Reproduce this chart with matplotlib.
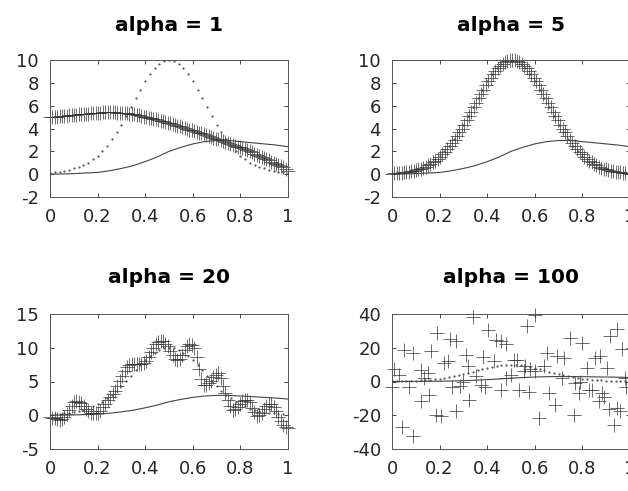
import numpy as np
import matplotlib
matplotlib.use('Agg')
import matplotlib.pyplot as plt

# true function (dotted), sampled every 0.02
x_true = np.linspace(0, 1, 51)
y_true = [0.10, 0.15, 0.20, 0.27, 0.36, 0.50, 0.64, 0.80, 1.00, 1.30,
          1.60, 2.00, 2.50, 3.05, 3.65, 4.35, 5.09, 5.87, 6.65, 7.41,
          8.12, 8.75, 9.28, 9.67, 9.92, 10.0, 9.92, 9.67, 9.28, 8.75,
          8.12, 7.41, 6.65, 5.87, 5.09, 4.35, 3.65, 3.05, 2.50, 2.00,
          1.60, 1.30, 1.00, 0.80, 0.64, 0.50, 0.36, 0.27, 0.20, 0.15, 0.10]

# solid reference curve
x_line = np.linspace(0, 1, 21)
y_line = [0.0, 0.02, 0.05, 0.1, 0.15, 0.3, 0.5, 0.75, 1.1, 1.5,
          2.0, 2.35, 2.65, 2.85, 2.95, 2.95, 2.85, 2.75, 2.65, 2.55, 2.4]

x_est = np.linspace(0, 1, 100)

est_a1 = [4.98, 5.00, 5.03, 5.05, 5.07, 5.09, 5.11, 5.13, 5.15, 5.17,
          5.19, 5.21, 5.23, 5.25, 5.27, 5.29, 5.31, 5.33, 5.35, 5.37,
          5.39, 5.40, 5.41, 5.42, 5.42, 5.42, 5.42, 5.41, 5.40, 5.39,
          5.38, 5.36, 5.34, 5.31, 5.28, 5.25, 5.21, 5.16, 5.11, 5.05,
          5.00, 4.95, 4.90, 4.85, 4.80, 4.75, 4.69, 4.63, 4.57, 4.51,
          4.45, 4.38, 4.32, 4.25, 4.19, 4.12, 4.05, 3.98, 3.91, 3.85,
          3.78, 3.71, 3.64, 3.57, 3.50, 3.42, 3.35, 3.27, 3.20, 3.12,
          3.05, 2.97, 2.89, 2.81, 2.74, 2.66, 2.58, 2.50, 2.42, 2.34,
          2.26, 2.17, 2.08, 1.99, 1.90, 1.80, 1.70, 1.60, 1.50, 1.40,
          1.30, 1.20, 1.10, 1.00, 0.90, 0.80, 0.70, 0.60, 0.45, 0.30]

est_a5 = [0.05, 0.07, 0.08, 0.10, 0.12, 0.15, 0.18, 0.21, 0.25, 0.30,
          0.36, 0.42, 0.49, 0.58, 0.67, 0.78, 0.90, 1.03, 1.18, 1.35,
          1.53, 1.73, 1.95, 2.19, 2.45, 2.72, 3.01, 3.32, 3.65, 3.99,
          4.35, 4.71, 5.09, 5.48, 5.87, 6.26, 6.65, 7.03, 7.41, 7.77,
          8.12, 8.45, 8.75, 9.03, 9.28, 9.49, 9.67, 9.81, 9.92, 9.98,
          10.0, 9.98, 9.92, 9.81, 9.67, 9.49, 9.28, 9.03, 8.75, 8.45,
          8.12, 7.77, 7.41, 7.03, 6.65, 6.26, 5.87, 5.48, 5.09, 4.71,
          4.35, 3.99, 3.65, 3.32, 3.01, 2.72, 2.45, 2.19, 1.95, 1.73,
          1.53, 1.35, 1.18, 1.03, 0.90, 0.78, 0.67, 0.58, 0.49, 0.42,
          0.36, 0.30, 0.25, 0.21, 0.18, 0.15, 0.12, 0.10, 0.08, 0.05]

est_a20 = [-0.3, -0.35, -0.4, -0.5, -0.65, -0.5, -0.2, 0.25, 0.8, 1.4,
           1.9, 2.05, 1.95, 1.75, 1.4, 0.95, 0.6, 0.4, 0.35, 0.35,
           0.4, 0.7, 1.2, 1.7, 2.2, 2.7, 3.15, 3.6, 4.3, 5.1,
           5.8, 6.5, 7.1, 7.45, 7.6, 7.6, 7.6, 7.6, 7.6, 7.75,
           8.1, 8.7, 9.4, 10.0, 10.5, 10.85, 11.0, 10.95, 10.6, 10.2,
           9.5, 9.0, 8.4, 8.2, 8.4, 8.9, 9.6, 10.2, 10.5, 10.4,
           10.0, 8.6, 6.8, 5.3, 4.5, 4.5, 4.8, 5.1, 5.6, 6.0,
           6.3, 5.5, 4.4, 3.3, 2.3, 1.4, 0.8, 0.9, 1.2, 1.7,
           2.1, 2.3, 2.3, 1.9, 1.1, 0.5, -0.1, 0.0, 0.3, 0.9,
           1.35, 1.65, 1.6, 1.2, 0.6, -0.2, -0.9, -1.5, -1.75, -1.9]

# alpha = 100: scattered estimates read point by point
x_a100 = [0.00, 0.01, 0.03, 0.04, 0.05, 0.07, 0.087, 0.09, 0.12, 0.122,
          0.136, 0.15, 0.157, 0.164, 0.185, 0.19, 0.206, 0.22, 0.234, 0.245,
          0.25, 0.269, 0.27, 0.285, 0.30, 0.311, 0.318, 0.325, 0.339, 0.353,
          0.374, 0.381, 0.39, 0.405, 0.43, 0.437, 0.458, 0.46, 0.479, 0.48,
          0.50, 0.511, 0.525, 0.532, 0.555, 0.56, 0.567, 0.574, 0.58, 0.60,
          0.602, 0.616, 0.637, 0.651, 0.658, 0.686, 0.693, 0.714, 0.721, 0.749,
          0.763, 0.77, 0.784, 0.791, 0.798, 0.819, 0.826, 0.84, 0.854, 0.868,
          0.875, 0.882, 0.89, 0.903, 0.91, 0.917, 0.932, 0.945, 0.946, 0.959,
          0.966, 0.98, 0.985]
y_a100 = [-3, 7.5, 4, -27, 18.5, -3.5, -32, 17, 7, -11.5,
          2, 5, -8, 18, -19.7, 28.5, -20.5, 11, 12, 25,
          -3, 24, -17.7, -2.5, 0, 16, 9, -10.8, 38, 3,
          -2, 14.5, -3, 30.5, 12, 24.5, 24, -5, 22, 2,
          4, 13, 13, -5, 6, 9, 33, -6, 7.5, 6,
          39.6, -21.5, 9, 17, -7, -13.7, 15, 2, 14, 26,
          -19.7, -1, -7, 0, 23, 8, -5, -5, 14, -11.7,
          15, -7, -9, 8, -16, 27, -25.6, 31, -15.7, -17.7,
          19, 2, -3]

titles = ['alpha = 1', 'alpha = 5', 'alpha = 20', 'alpha = 100']
ylims = [(-2, 10), (-2, 10), (-5, 15), (-40, 40)]
yticks = [np.arange(-2, 11, 2), np.arange(-2, 11, 2),
          np.arange(-5, 16, 5), np.arange(-40, 41, 20)]

plt.rcParams['font.family'] = ['DejaVu Sans']
plt.rcParams['axes.unicode_minus'] = False

fig = plt.figure(figsize=(6.28, 4.91), dpi=100)
W, H = 628, 491
boxes = [(50, 60, 238, 137), (392, 60, 238, 137),
         (50, 314, 238, 135), (392, 314, 238, 135)]
series = [(x_est, est_a1), (x_est, est_a5), (x_est, est_a20), (x_a100, y_a100)]

for i in range(4):
    l, t, w, h = boxes[i]
    ax = fig.add_axes([l / W, 1 - (t + h) / H, w / W, h / H])
    xs, ys = series[i]
    ax.plot(xs, ys, linestyle='none', marker='+', markersize=10,
            markeredgewidth=0.5, color='#333333', clip_on=False, zorder=2)
    ax.plot(x_line, y_line, '-', color='#444444', lw=0.8, zorder=3)
    ax.plot(x_true, y_true, linestyle='none', marker='.', markersize=1.1,
            color='#444444', zorder=3)
    ax.set_xlim(0, 1)
    ax.set_ylim(*ylims[i])
    ax.set_xticks([0, 0.2, 0.4, 0.6, 0.8, 1])
    ax.set_xticklabels(['0', '0.2', '0.4', '0.6', '0.8', '1'])
    ax.set_yticks(yticks[i])
    ax.tick_params(direction='in', length=3, width=0.6, top=True, right=True,
                   labelsize=13, colors='#262626', pad=8)
    for s in ax.spines.values():
        s.set_color('#555555')
        s.set_linewidth(0.7)
    ax.set_title(titles[i], fontsize=14.5, fontweight='bold', pad=21 if i < 2 else 22)

fig.savefig('out.png', dpi=100)
